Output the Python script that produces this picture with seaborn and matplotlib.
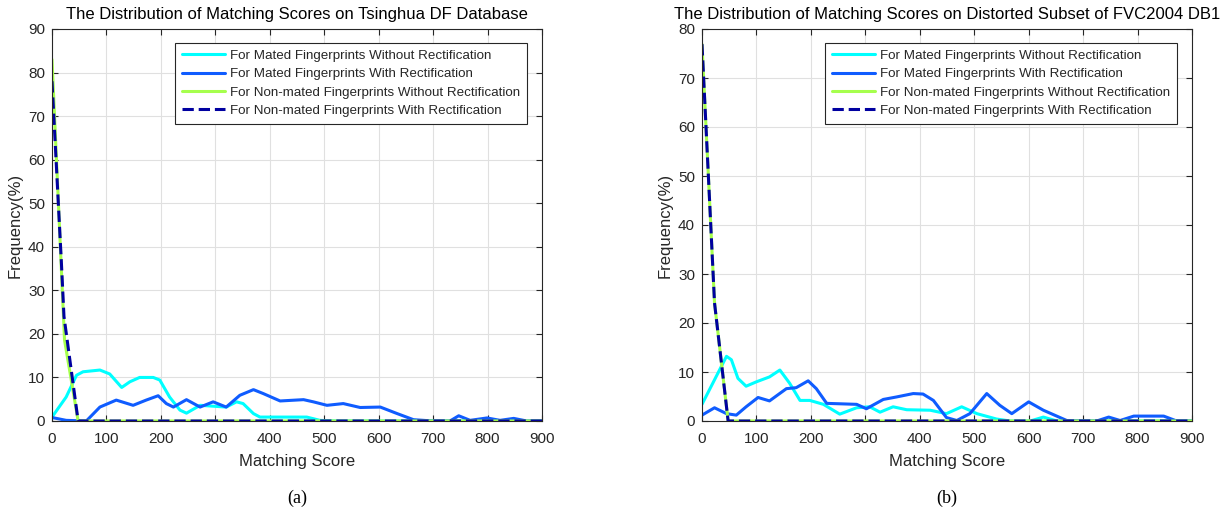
import numpy as np
import pandas as pd
import matplotlib
matplotlib.use("Agg")
import matplotlib.pyplot as plt
import seaborn as sns

sns.set_theme(style="whitegrid")
plt.rcParams['font.family'] = ['Liberation Sans', 'DejaVu Sans']

# ---------------- data ----------------
# Panel (a): Tsinghua DF Database
a_mated_wo_x = [0, 26, 45, 57, 88, 106, 128, 143, 161, 186, 198, 216, 235, 247, 272, 320, 339, 351, 370, 382, 468, 492, 520, 900]
a_mated_wo_y = [0.9, 5.5, 10.5, 11.3, 11.7, 10.8, 7.7, 9.0, 10.0, 10.0, 9.4, 5.5, 2.5, 1.8, 3.6, 3.2, 4.4, 4.0, 1.7, 0.9, 0.9, 0.15, 0, 0]

a_mated_w_x = [0, 26, 63, 88, 118, 149, 173, 195, 210, 223, 247, 272, 296, 320, 345, 370, 388, 419, 462, 480, 505, 535, 566, 603, 634, 664, 700, 731, 747, 768, 799, 823, 848, 872, 900]
a_mated_w_y = [0.8, 0.15, 0, 3.2, 4.8, 3.6, 4.8, 5.8, 4.0, 3.2, 4.9, 3.2, 4.4, 3.2, 5.9, 7.2, 6.3, 4.6, 4.9, 4.4, 3.6, 4.0, 3.1, 3.2, 1.7, 0.3, 0, 0, 1.2, 0.15, 0.7, 0.15, 0.6, 0, 0]

a_non_wo_x = [0, 23, 48, 900]
a_non_wo_y = [83.0, 18.6, 0, 0]

a_non_w_x = [0, 17, 22, 48, 900]
a_non_w_y = [78.0, 37.0, 24.0, 0, 0]

# Panel (b): Distorted subset of FVC2004 DB1
b_mated_wo_x = [0, 45, 54, 66, 81, 100, 124, 143, 161, 180, 198, 223, 253, 284, 308, 327, 351, 376, 419, 449, 477, 505, 541, 566, 603, 627, 652, 900]
b_mated_wo_y = [3.4, 13.2, 12.5, 8.7, 7.1, 8.0, 9.0, 10.4, 7.7, 4.2, 4.2, 3.4, 1.4, 2.7, 2.9, 1.8, 2.9, 2.3, 2.2, 1.5, 2.9, 1.5, 0.4, 0, 0, 0.8, 0, 0]

b_mated_w_x = [0, 23, 45, 63, 81, 103, 124, 155, 173, 195, 210, 229, 284, 302, 333, 357, 388, 406, 425, 449, 468, 492, 523, 547, 569, 600, 627, 670, 700, 725, 747, 768, 793, 848, 872, 900]
b_mated_w_y = [1.2, 2.7, 1.5, 1.2, 2.9, 4.8, 4.1, 6.6, 6.8, 8.2, 6.6, 3.6, 3.4, 2.5, 4.4, 4.9, 5.6, 5.5, 4.2, 0.7, 0.1, 1.5, 5.6, 3.2, 1.5, 3.9, 2.2, 0.1, 0, 0, 0.8, 0.1, 1.0, 1.0, 0, 0]

b_non_wo_x = [0, 23, 48, 900]
b_non_wo_y = [76.9, 24.1, 0, 0]

b_non_w_x = [0, 23, 48, 900]
b_non_w_y = [76.9, 24.1, 0, 0]

labels = ["For Mated Fingerprints Without Rectification",
          "For Mated Fingerprints With Rectification",
          "For Non-mated Fingerprints Without Rectification",
          "For Non-mated Fingerprints With Rectification"]
titles = ["The Distribution of Matching Scores on Tsinghua DF Database",
          "The Distribution of Matching Scores on Distorted Subset of FVC2004 DB1"]
panel_tags = ["(a)", "(b)"]
xticks = [0, 100, 200, 300, 400, 500, 600, 700, 800, 900]
yticks_a = [0, 10, 20, 30, 40, 50, 60, 70, 80, 90]
yticks_b = [0, 10, 20, 30, 40, 50, 60, 70, 80]

colors = ["#00FFFF", "#0F5CFF", "#A6FF4D", "#0000A0"]
styles = ["-", "-", "-", "--"]

fig = plt.figure(figsize=(12.25, 5.12), dpi=100)
ax_a = fig.add_axes([52/1225, 91/512, 490/1225, 392/512])
ax_b = fig.add_axes([702/1225, 91/512, 490/1225, 392/512])

panels = [
    (ax_a, [(a_mated_wo_x, a_mated_wo_y), (a_mated_w_x, a_mated_w_y), (a_non_wo_x, a_non_wo_y), (a_non_w_x, a_non_w_y)], yticks_a),
    (ax_b, [(b_mated_wo_x, b_mated_wo_y), (b_mated_w_x, b_mated_w_y), (b_non_wo_x, b_non_wo_y), (b_non_w_x, b_non_w_y)], yticks_b),
]

for i, (ax, series, yt) in enumerate(panels):
    for (x, y), lab, c, ls in zip(series, labels, colors, styles):
        sns.lineplot(x=x, y=y, ax=ax, color=c, linestyle=ls, linewidth=2.2, label=lab,
                     sort=False, estimator=None)
    ax.set_xlim(0, 900)
    ax.set_ylim(yt[0], yt[-1])
    ax.set_xticks(xticks)
    ax.set_yticks(yt)
    ax.set_facecolor("white")
    ax.grid(True, color="#e0e0e0", linewidth=0.8)
    for s in ax.spines.values():
        s.set_visible(True)
        s.set_color("#262626")
        s.set_linewidth(0.8)
    ax.tick_params(axis="x", pad=8)
    ax.tick_params(axis="y", pad=5)
    ax.tick_params(axis="both", which="both", direction="in", length=4, width=0.8,
                   color="#262626", top=True, right=True, bottom=True, left=True,
                   labelsize=11, labelcolor="#262626")
    ax.set_title(titles[i], fontsize=12.0, color="black", pad=7)
    ax.set_xlabel("Matching Score", fontsize=12, color="#262626", labelpad=6)
    ax.set_ylabel("Frequency(%)", fontsize=12, color="#262626", labelpad=4)
    leg = ax.legend(loc="upper right", bbox_to_anchor=(0.969, 0.964), fontsize=9.6,
                    frameon=True, fancybox=False, framealpha=1, edgecolor="#262626",
                    handlelength=3.25, borderpad=0.5, labelspacing=0.45, handletextpad=0.37,
                    borderaxespad=0)
    leg.get_frame().set_linewidth(0.8)
    ax.text(0.5, -0.175, panel_tags[i], transform=ax.transAxes, ha="center", va="top",
            fontsize=13, family=["Liberation Serif"], color="black")

fig.savefig("out.png", dpi=100, facecolor="white")
